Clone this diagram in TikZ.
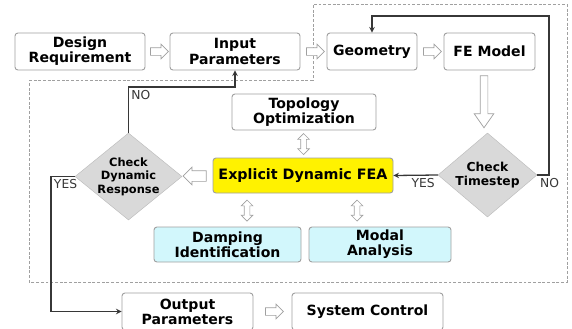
\documentclass[tikz,border=0pt]{standalone}
\usepackage{fontspec}
\setmainfont{DejaVu Sans}
\usetikzlibrary{shapes.geometric, shapes.arrows, arrows, calc}
\definecolor{boxline}{RGB}{160,160,160}
\definecolor{diafill}{RGB}{217,217,217}
\definecolor{modcyan}{RGB}{210,247,252}
\definecolor{linegray}{RGB}{55,55,55}
\tikzstyle{stepbox} = [rectangle, rounded corners=2.5pt, draw=boxline, line width=0.8pt, fill=white, align=center, inner sep=0, minimum height=11.1mm, font=\bfseries\fontsize{12}{13}\selectfont]
\tikzstyle{feabox} = [stepbox, fill=yellow, minimum height=10.5mm, font=\bfseries\fontsize{12.2}{14}\selectfont]
\tikzstyle{cyanbox} = [stepbox, fill=modcyan, minimum height=10.5mm]
\tikzstyle{checkdia} = [diamond, draw=boxline!70, fill=diafill, inner sep=0]
\tikzstyle{diatext} = [align=center, font=\bfseries\fontsize{9.75}{11.5}\selectfont]
\tikzstyle{harrow} = [single arrow, draw=boxline, fill=white, line width=0.6pt, inner xsep=0]
\tikzstyle{vdarrow} = [double arrow, draw=boxline, fill=white, line width=0.6pt, inner xsep=0, inner ysep=0.75mm, rotate=90, minimum height=6.3mm, double arrow head extend=0.9mm]
\tikzstyle{yesno} = [font=\fontsize{10.5}{12}\selectfont, text=linegray, inner sep=2pt]
\tikzstyle{arrow} = [line width=1.1pt,->,>=stealth,draw=linegray]

\begin{document}
\begin{tikzpicture}[x=0.3mm,y=-0.3mm]
\useasboundingbox (0,0) rectangle (572,328);
% simulation loop
\draw[boxline, line width=0.7pt, dash pattern=on 2.5pt off 1.5pt] (29,80) -- (313,80) -- (313,4) -- (567,4) -- (567,282) -- (29,282) -- cycle;

\node[stepbox, minimum width=39mm] (des) at (80,51.5) {Design\\Requirement};
\node[stepbox, minimum width=39mm] (inp) at (235,51.5) {Input\\Parameters};
\node[stepbox, minimum width=27mm] (geo) at (372,51.5) {Geometry};
\node[stepbox, minimum width=27.3mm] (fem) at (489.5,51.5) {FE Model};
\node[stepbox, minimum width=43.2mm, minimum height=10.8mm] (topo) at (304,112) {Topology\\Optimization};
\node[feabox, minimum width=54mm] (fea) at (303,175.5) {Explicit Dynamic FEA};
\node[cyanbox, minimum width=44.1mm] (damp) at (227.5,244.5) {Damping\\Identification};
\node[cyanbox, minimum width=42.6mm] (modal) at (380,244.5) {Modal\\Analysis};
\node[checkdia, minimum width=32.1mm, minimum height=26.1mm, label={[diatext]center:{Check\\Dynamic\\Response}}] (cdr) at (128.5,176.5) {};
\node[checkdia, minimum width=29.7mm, minimum height=25.2mm, label={[diatext, font=\bfseries\fontsize{10.5}{12}\selectfont]center:{Check\\Timestep}}] (cts) at (487.5,175) {};
\node[stepbox, minimum width=39.3mm] (out) at (187.5,311.5) {Output\\Parameters};
\node[stepbox, minimum width=45.3mm] (sys) at (367.5,311.5) {System Control};

% hollow arrows
\foreach \a/\b in {des/inp, inp/geo, geo/fem, out/sys}
	\node[harrow, minimum height=5.4mm, inner ysep=1.05mm, single arrow head extend=1.05mm] (\a-\b) at ($(\a.east)!0.5!(\b.west)$) {};
\node[harrow, rotate=-90, minimum height=15.6mm, inner ysep=1.05mm, single arrow head extend=1.8mm, single arrow tip angle=70] (fem-cts) at (484,99) {};
\node[harrow, rotate=180, minimum height=6.9mm, inner ysep=1.5mm, single arrow head extend=1.05mm] (fea-cdr) at ($(cdr.east)!0.5!(fea.west)$) {};
\node[vdarrow] (topo-fea) at ($(topo.south)!0.5!(fea.north)$) {};
\node[vdarrow] (fea-damp) at (247,210.5) {};
\node[vdarrow] (fea-modal) at (357,210.5) {};

% decisions
\coordinate (ctsup) at (549,16);
\coordinate (cdrup) at (128.5,87);
\coordinate (cdrleft) at (51,176.5);
\draw[arrow] (cts.west) node[yesno, below left] (ctsyes) {YES} -- (fea.east);
\draw[arrow] (cts.east) node[yesno, below right] (ctsno) {NO} -| (ctsup) -| (geo.north);
\draw[arrow] (cdr.north) -- (cdrup) node[yesno, below right] (cdrno) {NO} -| (inp.south);
\draw[arrow] (cdr.west) -- (cdrleft) node[yesno, below right] (cdryes) {YES} |- (out.west);
\end{tikzpicture}
\end{document}
